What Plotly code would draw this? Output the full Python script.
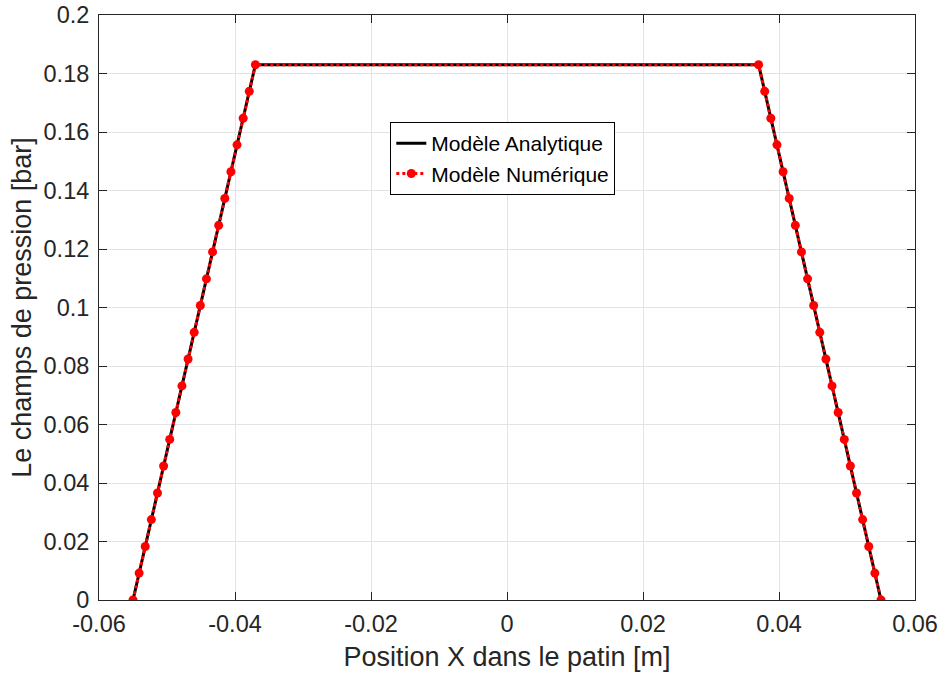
import plotly.graph_objects as go

# Analytical model (trapezoid)
x_ana = [-0.055, -0.037, 0.037, 0.055]
y_ana = [0.0, 0.183, 0.183, 0.0]

# Numerical model points
x_num = [-0.0550, -0.0541, -0.0532, -0.0523, -0.0514, -0.0505, -0.0496, -0.0487, -0.0478, -0.0469,
         -0.0460, -0.0451, -0.0442, -0.0433, -0.0424, -0.0415, -0.0406, -0.0397, -0.0388, -0.0379,
         -0.0370,
         0.0370, 0.0379, 0.0388, 0.0397, 0.0406, 0.0415, 0.0424, 0.0433, 0.0442, 0.0451,
         0.0460, 0.0469, 0.0478, 0.0487, 0.0496, 0.0505, 0.0514, 0.0523, 0.0532, 0.0541,
         0.0550]
y_num = [0.0, 0.0092, 0.0183, 0.0275, 0.0366, 0.0458, 0.0549, 0.0641, 0.0732, 0.0824,
         0.0915, 0.1007, 0.1098, 0.1190, 0.1281, 0.1373, 0.1464, 0.1556, 0.1647, 0.1739,
         0.1830,
         0.1830, 0.1739, 0.1647, 0.1556, 0.1464, 0.1373, 0.1281, 0.1190, 0.1098, 0.1007,
         0.0915, 0.0824, 0.0732, 0.0641, 0.0549, 0.0458, 0.0366, 0.0275, 0.0183, 0.0092,
         0.0]

x_ticks = [-0.06, -0.04, -0.02, 0, 0.02, 0.04, 0.06]
x_ticklabels = ["-0.06", "-0.04", "-0.02", "0", "0.02", "0.04", "0.06"]
y_ticks = [0, 0.02, 0.04, 0.06, 0.08, 0.1, 0.12, 0.14, 0.16, 0.18, 0.2]
y_ticklabels = ["0", "0.02", "0.04", "0.06", "0.08", "0.1", "0.12", "0.14", "0.16", "0.18", "0.2"]

FONT = "Liberation Sans, Arial, sans-serif"
AX = "#262626"

fig = go.Figure()
fig.add_trace(go.Scatter(x=x_ana, y=y_ana, mode="lines", name="Modèle Analytique",
                         line=dict(color="black", width=3)))
fig.add_trace(go.Scatter(x=x_num, y=y_num, mode="lines+markers", name="Modèle Numérique",
                         line=dict(color="#ff0000", width=3, dash="dot"),
                         marker=dict(color="#ff0000", size=9)))

axis_common = dict(showline=True, linecolor=AX, linewidth=1, mirror="ticks",
                   ticks="inside", ticklen=8, tickcolor=AX, tickwidth=1,
                   showgrid=True, gridcolor="#e3e3e3", gridwidth=1, zeroline=False,
                   automargin=False,
                   tickfont=dict(family=FONT, size=23.5, color=AX))

fig.update_xaxes(range=[-0.06, 0.06], tickvals=x_ticks, ticktext=x_ticklabels,
                 ticklabelstandoff=3,
                 title=dict(text="Position X dans le patin [m]", font=dict(family=FONT, size=27, color=AX), standoff=10),
                 **axis_common)
fig.update_yaxes(range=[0, 0.2], tickvals=y_ticks, ticktext=y_ticklabels,
                 ticklabelstandoff=4,
                 title=dict(text="Le champs de pression [bar]", font=dict(family=FONT, size=27, color=AX), standoff=4),
                 **axis_common)

fig.update_layout(width=943, height=675, margin=dict(l=99, r=28, t=15, b=75),
                  plot_bgcolor="white", paper_bgcolor="white",
                  legend=dict(x=0.357, y=0.817, xanchor="left", yanchor="top",
                              bgcolor="white", bordercolor="black", borderwidth=1,
                              font=dict(family=FONT, size=21, color="black"),
                              tracegroupgap=0, itemwidth=30))

fig.write_html("out.html")
